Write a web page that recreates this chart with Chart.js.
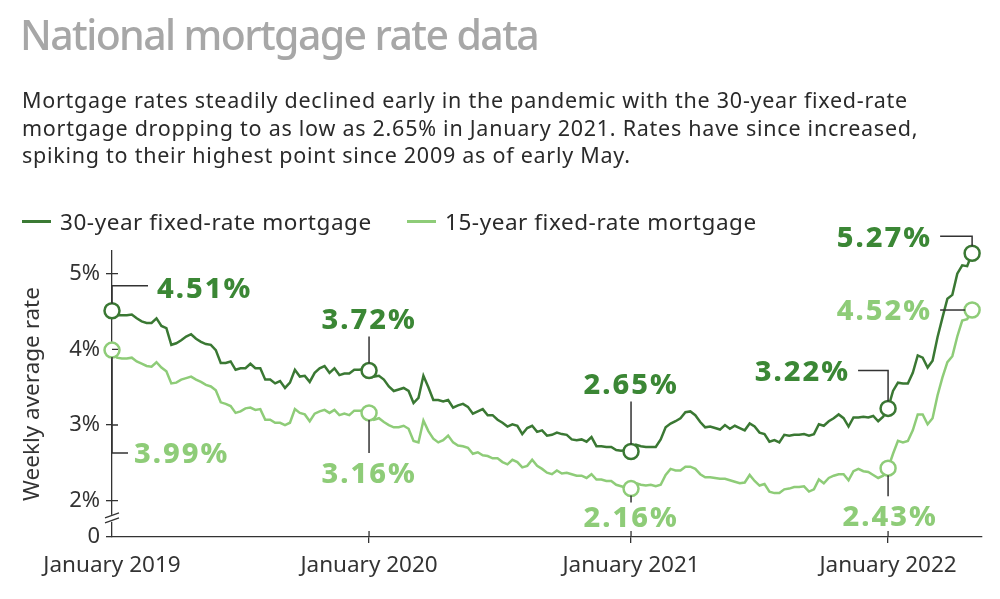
<!DOCTYPE html>
<html>
<head>
<meta charset="utf-8">
<script src="https://cdn.jsdelivr.net/npm/chart.js"></script>
<style>
  body { margin: 0; background: #fff; font-family: "Noto Sans", sans-serif; }
  #wrap { position: relative; width: 1000px; height: 599px; overflow: hidden; }
  #title { position: absolute; left: 20px; top: 6px; font-size: 41px; font-weight: 500; color: #a7a7a7; letter-spacing: -1.6px; white-space: nowrap; }
  #sub { position: absolute; left: 22px; top: 86px; font-size: 21.5px; line-height: 27.5px; letter-spacing: 0.74px; color: #2a2a2a; white-space: nowrap; }
  .leg { position: absolute; top: 206px; font-size: 22.5px; letter-spacing: 0.55px; color: #2a2a2a; white-space: nowrap; }
  .leg i { display: inline-block; width: 29px; height: 3px; vertical-align: middle; margin-right: 9px; position: relative; top: -2px; }
  canvas { position: absolute; left: 0; top: 0; }
</style>
</head>
<body>
<div id="wrap">
  <canvas id="chart" width="1000" height="599"></canvas>
  <div id="title">National mortgage rate data</div>
  <div id="sub">Mortgage rates steadily declined early in the pandemic with the 30-year fixed-rate<br>mortgage dropping to as low as 2.65% in January 2021. Rates have since increased,<br>spiking to their highest point since 2009 as of early May.</div>
  <div class="leg" style="left:22px"><i style="background:#3b7a34"></i>30-year fixed-rate mortgage</div>
  <div class="leg" style="left:407px"><i style="background:#8ecc78"></i>15-year fixed-rate mortgage</div>
</div>
<script>
// weekly Freddie Mac averages, first Thursday of Jan 2019 through early May 2022
const rate30 = [
  // 2019
  4.51, 4.45, 4.45, 4.45, 4.46, 4.41, 4.37, 4.35, 4.35, 4.41,
  4.31, 4.28, 4.06, 4.08, 4.12, 4.17, 4.20, 4.14, 4.10, 4.07,
  4.06, 3.99, 3.82, 3.82, 3.84, 3.73, 3.75, 3.75, 3.81, 3.75,
  3.75, 3.60, 3.60, 3.55, 3.58, 3.49, 3.56, 3.73, 3.64, 3.65,
  3.57, 3.69, 3.75, 3.78, 3.69, 3.75, 3.66, 3.68, 3.68, 3.73,
  3.73, 3.74,
  // 2020
  3.72, 3.64, 3.65, 3.60, 3.51, 3.45, 3.47, 3.49, 3.45, 3.29,
  3.36, 3.65, 3.50, 3.33, 3.33, 3.31, 3.33, 3.23, 3.26, 3.28,
  3.24, 3.15, 3.18, 3.21, 3.13, 3.13, 3.07, 3.03, 2.98, 3.01,
  2.99, 2.88, 2.96, 2.99, 2.91, 2.93, 2.86, 2.87, 2.90, 2.88,
  2.87, 2.81, 2.80, 2.81, 2.78, 2.84, 2.72, 2.72, 2.71, 2.71,
  2.67, 2.66, 2.67,
  // 2021
  2.65, 2.74, 2.72, 2.71, 2.71, 2.71, 2.81, 2.97, 3.02, 3.05,
  3.09, 3.17, 3.18, 3.13, 3.04, 2.97, 2.98, 2.96, 2.94, 3.00,
  2.95, 2.99, 2.96, 2.93, 3.02, 2.98, 2.90, 2.88, 2.78, 2.80,
  2.77, 2.87, 2.86, 2.87, 2.87, 2.88, 2.86, 2.88, 3.01, 2.99,
  3.05, 3.09, 3.14, 3.09, 2.98, 3.10, 3.10, 3.11, 3.10, 3.12,
  3.05, 3.11,
  // 2022
  3.22, 3.45, 3.56, 3.55, 3.55, 3.69, 3.92, 3.89, 3.76, 3.85,
  4.16, 4.42, 4.67, 4.72, 5.00, 5.11, 5.10, 5.27
];

const rate15 = [
  // 2019
  3.99, 3.89, 3.88, 3.88, 3.89, 3.84, 3.81, 3.78, 3.77, 3.83,
  3.76, 3.71, 3.55, 3.56, 3.60, 3.62, 3.64, 3.60, 3.57, 3.53,
  3.51, 3.46, 3.30, 3.28, 3.25, 3.16, 3.18, 3.22, 3.23, 3.20,
  3.21, 3.07, 3.07, 3.03, 3.03, 3.00, 3.03, 3.21, 3.16, 3.14,
  3.05, 3.15, 3.18, 3.20, 3.16, 3.20, 3.13, 3.15, 3.13, 3.19,
  3.19, 3.19,
  // 2020
  3.16, 3.07, 3.09, 3.04, 3.00, 2.97, 2.97, 2.99, 2.95, 2.79,
  2.77, 3.06, 2.92, 2.82, 2.77, 2.80, 2.86, 2.77, 2.73, 2.72,
  2.70, 2.62, 2.64, 2.60, 2.59, 2.56, 2.56, 2.51, 2.48, 2.54,
  2.51, 2.44, 2.46, 2.54, 2.46, 2.42, 2.37, 2.35, 2.40, 2.36,
  2.37, 2.35, 2.33, 2.33, 2.30, 2.35, 2.28, 2.28, 2.26, 2.26,
  2.21, 2.19, 2.17,
  // 2021
  2.16, 2.23, 2.21, 2.20, 2.21, 2.19, 2.21, 2.34, 2.42, 2.40,
  2.40, 2.45, 2.45, 2.42, 2.35, 2.31, 2.31, 2.30, 2.29, 2.29,
  2.27, 2.25, 2.23, 2.24, 2.34, 2.26, 2.20, 2.22, 2.12, 2.10,
  2.10, 2.15, 2.16, 2.18, 2.18, 2.19, 2.12, 2.15, 2.28, 2.23,
  2.30, 2.33, 2.35, 2.35, 2.27, 2.39, 2.42, 2.39, 2.38, 2.34,
  2.30, 2.33,
  // 2022
  2.43, 2.62, 2.79, 2.77, 2.79, 2.93, 3.14, 3.14, 3.01, 3.09,
  3.39, 3.63, 3.83, 3.91, 4.17, 4.38, 4.40, 4.52
];

// x axis: week number since the first week of 2019
const xTickWeeks = [0, 52, 105, 157];
const xTickLabels = ['January 2019', 'January 2020', 'January 2021', 'January 2022'];

// y axis is broken: the "0" tick sits just under 2%
const AXIS_ZERO = 1.52;
const yTickValues = [AXIS_ZERO, 2, 3, 4, 5];
const yTickLabels = ['0', '2%', '3%', '4%', '5%'];

// weeks that get a circle and a callout
const calloutWeeks = [0, 52, 105, 157, 174];

const DARK = '#3a7833';
const DARK_TEXT = '#3b8735';
const LIGHT = '#8ecc78';
const INK = '#333';
const FONT = '"Noto Sans", sans-serif';

// leader line (offsets from the circle) and label offset for each callout
const callouts = [
  { ds: 0, week: 0,   line: [[0, -7], [0, -25], [36, -25]],  tx: 45,  ty: -21, align: 'left' },
  { ds: 1, week: 0,   line: [[0, 7], [0, 103], [16, 103]],   tx: 22,  ty: 105, align: 'left' },
  { ds: 0, week: 52,  line: [[0, -7], [0, -34]],             tx: 0,   ty: -50, align: 'center' },
  { ds: 1, week: 52,  line: [[0, 7], [0, 40]],               tx: 0,   ty: 62,  align: 'center' },
  { ds: 0, week: 105, line: [[0, -7], [0, -50]],             tx: 0,   ty: -66, align: 'center' },
  { ds: 1, week: 105, line: [[0, 7], [0, 14]],               tx: 0,   ty: 30,  align: 'center' },
  { ds: 0, week: 157, line: [[0, -7], [0, -38], [-30, -38]], tx: -38, ty: -36, align: 'right' },
  { ds: 1, week: 157, line: [[0, 7], [0, 28]],               tx: 2,   ty: 50,  align: 'center' },
  { ds: 0, week: 174, line: [[0, -7], [0, -17], [-32, -17]], tx: -40, ty: -15, align: 'right' },
  { ds: 1, week: 174, line: [[-7, 0], [-32, 0]],             tx: -40, ty: 2,   align: 'right' }
];

const series = [rate30, rate15];

const calloutPlugin = {
  id: 'callouts',
  afterDraw(chart) {
    const ctx = chart.ctx;
    const xs = chart.scales.x;
    const ys = chart.scales.y;
    ctx.save();

    // ticks crossing into the plot area
    ctx.strokeStyle = INK;
    ctx.lineWidth = 1.3;
    ctx.beginPath();
    yTickValues.slice(1).forEach(v => {
      const y = ys.getPixelForValue(v);
      ctx.moveTo(xs.left, y);
      ctx.lineTo(xs.left + 6, y);
    });
    xTickWeeks.slice(1).forEach(w => {
      const x = xs.getPixelForValue(w);
      ctx.moveTo(x, ys.bottom);
      ctx.lineTo(x, ys.bottom - 6);
    });
    ctx.stroke();

    // axis break marks
    const yb = (ys.getPixelForValue(AXIS_ZERO) + ys.getPixelForValue(2)) / 2;
    const xa = xs.left;
    ctx.fillStyle = '#fff';
    ctx.fillRect(xa - 2, yb - 4, 4, 7);
    ctx.beginPath();
    ctx.moveTo(xa - 7, yb - 1); ctx.lineTo(xa + 7, yb - 6);
    ctx.moveTo(xa - 7, yb + 4); ctx.lineTo(xa + 7, yb - 1);
    ctx.stroke();

    // callouts
    callouts.forEach(c => {
      const v = series[c.ds][c.week];
      const px = xs.getPixelForValue(c.week);
      const py = ys.getPixelForValue(v);
      ctx.strokeStyle = INK;
      ctx.lineWidth = 1.5;
      ctx.beginPath();
      c.line.forEach(([dx, dy], k) => k ? ctx.lineTo(px + dx, py + dy) : ctx.moveTo(px + dx, py + dy));
      ctx.stroke();
      ctx.font = '800 29px ' + FONT;
      ctx.letterSpacing = '2px';
      ctx.fillStyle = c.ds === 0 ? DARK_TEXT : LIGHT;
      ctx.textAlign = c.align;
      ctx.textBaseline = 'middle';
      ctx.fillText(v.toFixed(2) + '%', px + c.tx, py + c.ty);
    });
    ctx.restore();
  }
};

const toPoints = arr => arr.map((v, i) => ({ x: i, y: v }));

new Chart(document.getElementById('chart'), {
  type: 'line',
  data: {
    datasets: [
      { label: '30-year fixed-rate mortgage', data: toPoints(rate30), borderColor: DARK },
      { label: '15-year fixed-rate mortgage', data: toPoints(rate15), borderColor: LIGHT }
    ]
  },
  options: {
    responsive: false,
    animation: false,
    events: [],
    clip: false,
    layout: { padding: { top: 251, right: 18, bottom: 0, left: 0 } },
    elements: {
      line: { borderWidth: 2.5, tension: 0 },
      point: {
        radius: ctx => calloutWeeks.includes(ctx.dataIndex) ? 7.5 : 0,
        backgroundColor: '#fff',
        borderWidth: 2.5,
        borderColor: ctx => ctx.dataset.borderColor
      }
    },
    plugins: { legend: { display: false }, tooltip: { enabled: false } },
    scales: {
      x: {
        type: 'linear',
        min: 0,
        max: 176,
        afterFit: s => { s.height = 62; },
        afterBuildTicks: s => { s.ticks = xTickWeeks.map(w => ({ value: w })); },
        border: { color: INK, width: 1.3 },
        grid: { drawOnChartArea: false, tickLength: 6, lineWidth: 1.3, color: c => c.index === 0 ? 'rgba(0,0,0,0)' : INK },
        ticks: {
          autoSkip: false, maxRotation: 0, padding: 9, color: INK,
          font: { family: FONT, size: 22.5 },
          callback: (v, i) => xTickLabels[i]
        }
      },
      y: {
        min: AXIS_ZERO,
        max: 5.3,
        afterFit: s => { s.width = 112; },
        afterBuildTicks: s => { s.ticks = yTickValues.map(v => ({ value: v })); },
        border: { color: INK, width: 1.3 },
        grid: { drawOnChartArea: false, tickLength: 6, lineWidth: 1.3, color: INK },
        ticks: {
          padding: 6, color: INK,
          font: { family: FONT, size: 22 },
          callback: (v, i) => yTickLabels[i]
        },
        title: {
          display: true, text: 'Weekly average rate', color: INK,
          font: { family: FONT, size: 22.5 },
          padding: { top: 19, bottom: 0 }
        }
      }
    }
  },
  plugins: [calloutPlugin]
});
</script>
</body>
</html>
